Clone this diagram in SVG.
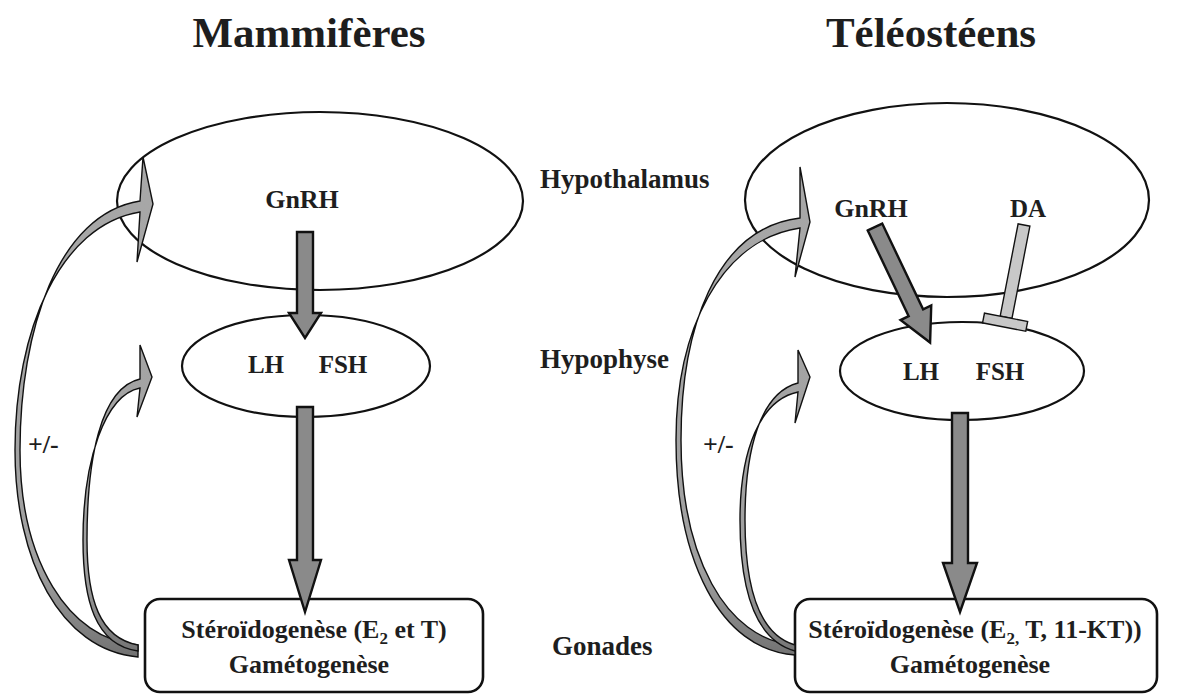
<svg xmlns="http://www.w3.org/2000/svg" width="1180" height="698" viewBox="0 0 1180 698">
<defs>
<linearGradient id="fb" gradientUnits="userSpaceOnUse" x1="0" y1="150" x2="0" y2="660">
<stop offset="0" stop-color="#a8a8a8"/>
<stop offset="0.82" stop-color="#a0a0a0"/>
<stop offset="1" stop-color="#707070"/>
</linearGradient>
</defs>
<style>
.t{font-family:"Liberation Serif","Times New Roman",serif;font-weight:bold;fill:#1e1e1e}
.title{font-size:43px}
.lab{font-size:27px}
.box{font-size:26px}
.hor{font-size:25px}
.sub{font-size:17px}
.shape{fill:none;stroke:#111;stroke-width:2.2}
.boxr{fill:#fff;stroke:#111;stroke-width:2.6}
.main{fill:#8a8a8a;stroke:#111;stroke-width:2.4;stroke-linejoin:miter}
.feed{fill:url(#fb);stroke:#111;stroke-width:1.4;stroke-linejoin:miter}
.inh{fill:#c8c8c8;stroke:#111;stroke-width:1.4}
</style>
<rect width="1180" height="698" fill="#fff"/>

<text class="t title" x="309" y="47" text-anchor="middle">Mammifères</text>
<text class="t title" x="931" y="47" text-anchor="middle">Téléostéens</text>

<text class="t lab" x="540" y="188">Hypothalamus</text>
<text class="t lab" x="540" y="368">Hypophyse</text>
<text class="t lab" x="552" y="655">Gonades</text>

<g id="hypothalamus-m">
<ellipse class="shape" cx="320" cy="201" rx="203" ry="89"/>
<text class="t lab" x="302" y="208" text-anchor="middle" style="font-size:26px">GnRH</text>
</g>
<g id="hypophyse-m">
<ellipse class="shape" cx="306" cy="366" rx="124" ry="51"/>
<text class="t hor" x="266" y="373" text-anchor="middle">LH</text>
<text class="t hor" x="343" y="373" text-anchor="middle">FSH</text>
</g>
<g id="gonades-m">
<rect class="boxr" x="145" y="599" width="338" height="93" rx="15"/>
<text class="t box" x="314" y="638" text-anchor="middle">Stéroïdogenèse (E<tspan class="sub" dy="6">2</tspan><tspan dy="-6"> et T)</tspan></text>
<text class="t box" x="309" y="673" text-anchor="middle">Gamétogenèse</text>
</g>

<g id="hypothalamus-t">
<ellipse class="shape" cx="947" cy="200" rx="202" ry="97"/>
<text class="t lab" x="871" y="217" text-anchor="middle" style="font-size:26px">GnRH</text>
<text class="t hor" x="1028" y="217" text-anchor="middle">DA</text>
</g>
<g id="hypophyse-t">
<ellipse class="shape" cx="962" cy="371" rx="122" ry="49"/>
<text class="t hor" x="921" y="380" text-anchor="middle">LH</text>
<text class="t hor" x="1000" y="380" text-anchor="middle">FSH</text>
</g>
<g id="gonades-t">
<rect class="boxr" x="795" y="599" width="362" height="93" rx="15"/>
<text class="t box" x="975" y="638" text-anchor="middle">Stéroïdogenèse (E<tspan class="sub" dy="6">2,</tspan><tspan dy="-6"> T, 11-KT))</tspan></text>
<text class="t box" x="970" y="673" text-anchor="middle">Gamétogenèse</text>
</g>

<g id="connectors">
<polygon class="main" points="297,232 313,232 313,313 321,313 305,338 289,313 297,313"/>
<polygon class="main" points="297,407 313,407 313,560 321,560 305,612 289,560 297,560"/>
<polygon class="main" points="952,413 968,413 968,563 977,563 960,612 943,563 952,563"/>
<polygon class="main" transform="translate(875,227) rotate(-25.5)" points="-8,0 8,0 8,95 17,95 0,128 -17,95 -8,95"/>
<g transform="translate(1024,225) rotate(11)">
<rect class="inh" x="-6" y="0" width="12" height="94"/>
<rect class="inh" x="-22" y="94" width="44" height="10"/>
</g>

<path class="feed" d="M138,657 C60,650 15,560 15,450 C15,330 60,225 140,212 L137,262 L153,204 L143,157 L140,201 C58,214 20,330 20,450 C20,560 68,640 138,645 Z"/>
<path class="feed" d="M138,651 C95,645 83,600 83,540 C83,460 105,395 140,388 L137,417 L152,377 L140,345 L140,379 C100,388 87,460 87,540 C87,600 100,638 138,645 Z"/>
<path class="feed" d="M795,655 C720,650 676,560 676,440 C676,330 720,240 800,228 L795,277 L810,222 L800,167 L800,218 C715,228 681,330 681,440 C681,555 725,640 795,645 Z"/>
<path class="feed" d="M795,651 C755,640 740,590 740,520 C740,450 760,400 798,392 L795,423 L810,377 L798,350 L798,383 C760,393 745,450 745,520 C745,590 760,635 795,645 Z"/>
</g>

<text class="t lab" x="28" y="453" style="font-size:26px">+/-</text>
<text class="t lab" x="703" y="453" style="font-size:26px">+/-</text>
</svg>
